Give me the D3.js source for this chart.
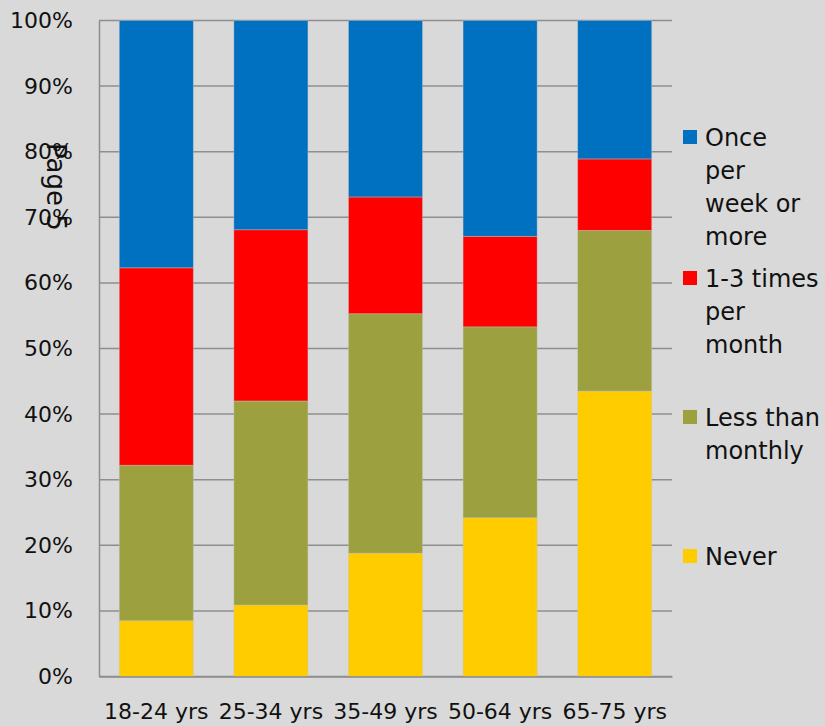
<!DOCTYPE html>
<html>
<head>
<meta charset="utf-8">
<script src="https://cdn.jsdelivr.net/npm/d3@7"></script>
<style>
  html, body { margin: 0; padding: 0; background: #d9d9d9; }
  svg { display: block; font-family: "DejaVu Sans", sans-serif; }
</style>
</head>
<body>
<svg id="chart" width="825" height="726"></svg>
<script>
// age groups along the x axis
const categories = ["18-24 yrs", "25-34 yrs", "35-49 yrs", "50-64 yrs", "65-75 yrs"];

// percent of each group, stacked bottom to top
const never = [8.5, 10.9, 18.8, 24.2, 43.5];
const lessThanMonthly = [23.7, 31.1, 36.5, 29.1, 24.5];
const oneToThreeMonthly = [30.1, 26.1, 17.8, 13.8, 10.9];
const oncePerWeek = [37.7, 31.9, 26.9, 32.9, 21.1];

const seriesNames = ["Never", "Less than monthly", "1-3 times per month", "Once per week or more"];
const yTicks = [0, 10, 20, 30, 40, 50, 60, 70, 80, 90, 100];

const colors = ["#ffcc00", "#9ca03f", "#ff0000", "#0070c0"];

// legend text broken into lines like the original
const legendLines = [
    ["Once", "per", "week or", "more"],
    ["1-3 times", "per", "month"],
    ["Less than", "monthly"],
    ["Never"]
];
const legendColors = [colors[3], colors[2], colors[1], colors[0]];

const svg = d3.select("#chart");
const plotLeft = 99, plotRight = 672, plotTop = 20.5, plotBottom = 676.5;

const x = d3.scaleBand().domain(categories).range([plotLeft, plotRight]).paddingInner(0.354).paddingOuter(0.177);
const y = d3.scaleLinear().domain([0, 100]).range([plotBottom, plotTop]);

// gridlines
svg.append("g")
    .selectAll("line")
    .data(yTicks)
    .join("line")
    .attr("x1", plotLeft)
    .attr("x2", plotRight)
    .attr("y1", d => y(d))
    .attr("y2", d => y(d))
    .attr("stroke", "#8e8e8e")
    .attr("stroke-width", 1.5);

// stacked bars
const rows = categories.map((c, i) => ({
    cat: c,
    s0: never[i], s1: lessThanMonthly[i], s2: oneToThreeMonthly[i], s3: oncePerWeek[i]
}));
const stacked = d3.stack().keys(["s0", "s1", "s2", "s3"])(rows);

svg.append("g")
    .selectAll("g")
    .data(stacked)
    .join("g")
    .attr("fill", (d, i) => colors[i])
    .selectAll("rect")
    .data(d => d)
    .join("rect")
    .attr("x", d => x(d.data.cat))
    .attr("width", x.bandwidth())
    .attr("y", d => y(d[1]))
    .attr("height", d => y(d[0]) - y(d[1]))
    .attr("stroke", "rgba(200,200,200,0.5)")
    .attr("stroke-width", 0.8);

// y axis
const yAxis = svg.append("g")
    .attr("transform", `translate(${plotLeft},0)`)
    .call(d3.axisLeft(y).tickValues(yTicks).tickSize(0).tickPadding(26).tickFormat(d => d + "%"));
yAxis.select(".domain").attr("stroke", "#8e8e8e").attr("stroke-width", 1.5);
yAxis.selectAll("text")
    .attr("font-size", 22)
    .attr("fill", "#111")
    .attr("font-family", "DejaVu Sans, sans-serif");

// x axis
const xAxis = svg.append("g")
    .attr("transform", `translate(0,${plotBottom})`)
    .call(d3.axisBottom(x).tickSize(0).tickPadding(27));
xAxis.select(".domain").attr("stroke", "#8e8e8e").attr("stroke-width", 1.5);
xAxis.selectAll("text")
    .attr("font-size", 22)
    .attr("fill", "#111")
    .attr("font-family", "DejaVu Sans, sans-serif");

// stray vertical "Page 5" label over the y ticks
svg.append("text")
    .attr("transform", "translate(47,143) rotate(90)")
    .attr("font-size", 26)
    .attr("fill", "#111")
    .text("Page 5");

// legend
const legendY = [137, 278, 417, 556];
const legend = svg.append("g");
legendLines.forEach((lines, i) => {
    legend.append("rect")
        .attr("x", 683)
        .attr("y", legendY[i] - 7)
        .attr("width", 14)
        .attr("height", 14)
        .attr("fill", legendColors[i]);
    legend.append("text")
        .attr("x", 705)
        .attr("y", legendY[i])
        .attr("font-size", 24)
        .attr("fill", "#111")
        .selectAll("tspan")
        .data(lines)
        .join("tspan")
        .attr("x", 705)
        .attr("dy", (d, j) => j === 0 ? "0.36em" : 33)
        .text(d => d);
});
</script>
</body>
</html>
